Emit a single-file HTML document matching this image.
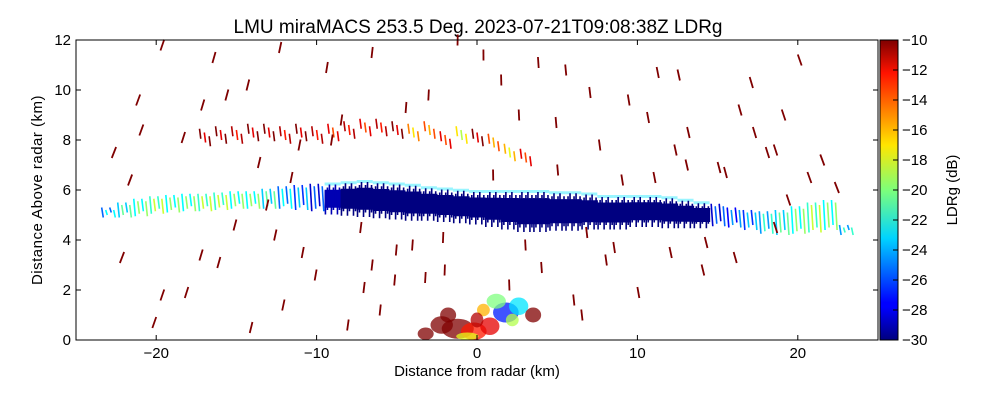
<!DOCTYPE html>
<html><head><meta charset="utf-8"><style>
body{margin:0;background:#fff;}
svg{display:block;font-family:"Liberation Sans",sans-serif;}
</style></head><body>
<svg id="chart" width="1000" height="400" viewBox="0 0 1000 400">
<text x="478" y="33" text-anchor="middle" font-size="19">LMU miraMACS 253.5 Deg. 2023-07-21T09:08:38Z  LDRg</text>
<g id="plot"></g>
<g id="axes"></g>
<text x="477" y="376" text-anchor="middle" font-size="15">Distance from radar (km)</text>
<text transform="translate(42,190) rotate(-90)" text-anchor="middle" font-size="15" letter-spacing="0.5">Distance Above radar  (km)</text>
<defs><linearGradient id="jet" x1="0" y1="1" x2="0" y2="0">
<stop offset="0" stop-color="#00007f"/><stop offset="0.11" stop-color="#0000ff"/><stop offset="0.125" stop-color="#0000ff"/>
<stop offset="0.34" stop-color="#00d4ff"/><stop offset="0.5" stop-color="#7dff7a"/><stop offset="0.65" stop-color="#ffe600"/>
<stop offset="0.89" stop-color="#ff1300"/><stop offset="1" stop-color="#7f0000"/></linearGradient></defs>
<rect x="880" y="40" width="18" height="300" fill="url(#jet)" stroke="#000" stroke-width="1"/>
<g id="cbar"></g>
<text transform="translate(957,190) rotate(-90)" text-anchor="middle" font-size="15">LDRg (dB)</text>
</svg>
<script>
const xTicks=[-20,-10,0,10,20];
const yTicks=[0,2,4,6,8,10,12];
const cTicks=[-10,-12,-14,-16,-18,-20,-22,-24,-26,-28,-30];
const bandX=[-23,-22,-21,-20,-19,-18,-17,-16,-15,-14,-13,-12,-11,-10,-9,-8,-7,-6,-5,-4,-3,-2,-1,0,1,2,3,4,5,6,7,8,9,10,11,12,13,14,15,16,17,18,19,20,21,22,23];
const bandY=[5.1,5.2,5.3,5.4,5.45,5.5,5.5,5.55,5.6,5.6,5.65,5.7,5.7,5.7,5.65,5.65,5.65,5.6,5.55,5.5,5.45,5.4,5.35,5.3,5.25,5.2,5.15,5.15,5.15,5.15,5.15,5.1,5.1,5.15,5.15,5.1,5.05,5.0,5.0,4.9,4.8,4.7,4.7,4.8,4.9,5.0,4.4];
const bandHalf=[0.2,0.3,0.35,0.35,0.35,0.35,0.35,0.35,0.35,0.35,0.4,0.45,0.5,0.55,0.45,0.5,0.55,0.55,0.55,0.55,0.5,0.5,0.5,0.5,0.55,0.6,0.65,0.65,0.6,0.6,0.55,0.5,0.5,0.45,0.45,0.45,0.4,0.35,0.45,0.4,0.4,0.45,0.5,0.55,0.6,0.6,0.2];
const bandLDR=[-24,-22,-21,-20,-21,-21,-20,-20,-21,-21,-22,-24,-25,-27,-29,-30,-30,-30,-30,-30,-30,-30,-30,-30,-30,-30,-30,-30,-30,-30,-30,-30,-30,-30,-30,-30,-30,-30,-27,-26,-25,-23,-22,-21,-20,-21,-23];
const layerX=[-17,-16,-15,-14,-13,-12,-11,-10,-9,-8,-7,-6,-5,-4,-3,-2,-1,0,1,2,3];
const layerY=[8.1,8.2,8.2,8.3,8.3,8.2,8.3,8.2,8.3,8.4,8.5,8.5,8.4,8.3,8.4,8.0,8.2,8.1,7.9,7.5,7.3];
const layerLDR=[-10,-10,-11,-10,-10,-11,-10,-11,-12,-11,-12,-11,-10,-15,-14,-12,-17,-10,-14,-16,-12];
const streakX=[-22.5,-21.5,-20.8,-19.5,-18.2,-17.1,-16.3,-15.5,-14.2,-13.5,-12.2,-11.5,-10.8,-9.3,-8.4,-7.2,-6.5,-5.1,-4.4,-3.2,-2.1,-1.2,0.4,1.5,2.6,3.8,4.9,5.5,6.8,7.6,8.5,9.4,10.6,11.2,12.3,13.1,14.2,15.4,16.3,17.2,18.5,19.3,20.6,21.4,22.3,-22,-20,-18,-16,-14,-12,-10,-8,-6,-4,-2,2,4,6,8,10,12,14,16,18,20,-17,-13,-9,-5,5,9,13,17,-21,-15,-11,-7,-3,3,7,11,15,19,-19.5,-12.5,-6.5,1,6.5,12.5,18.5];
const streakY=[7.5,6.4,8.4,11.8,8.1,3.4,11.3,9.8,10.2,7.1,11.7,6.5,3.5,10.9,8.8,4.5,3.0,2.4,9.3,2.5,4.1,12.0,11.4,10.4,9.0,11.1,8.7,10.8,4.3,7.8,3.7,9.6,8.9,10.7,7.6,8.3,3.9,6.7,9.2,8.3,4.5,5.6,6.5,7.2,6.1,3.3,0.7,1.9,3.1,0.5,1.4,2.6,0.6,1.2,3.8,2.8,2.2,2.9,1.6,3.2,1.9,3.5,2.8,3.3,7.5,11.2,9.4,5.4,8.0,3.6,6.8,6.4,7.0,10.3,9.6,4.6,7.8,2.1,9.8,3.8,9.9,6.5,6.9,9.0,1.8,4.2,11.5,6.6,1.0,10.6,7.6];
const blobX=[-1.2,-0.2,0.8,-2.2,1.8,2.6,1.2,3.5,-3.2,-0.6,0.4,-1.8,2.2,0.0];
const blobY=[0.45,0.35,0.55,0.6,1.1,1.35,1.55,1.0,0.25,0.15,1.2,1.0,0.8,0.8];
const blobRX=[1.0,0.8,0.6,0.7,0.8,0.6,0.6,0.5,0.5,0.7,0.4,0.5,0.4,0.4];
const blobRY=[0.4,0.35,0.35,0.35,0.4,0.35,0.3,0.3,0.25,0.15,0.25,0.3,0.25,0.3];
const blobLDR=[-10,-13,-12,-10,-27,-23,-20,-10,-10,-18,-16,-10,-19,-11];

const X0=76,X1=878,Y0=340,Y1=40;
const sx=v=>X0+(v+25)/50*(X1-X0);
const sy=v=>Y0-v/12*(Y0-Y1);
const NS='http://www.w3.org/2000/svg';
function jet(ldr){
  let t=Math.max(0,Math.min(1,(ldr+30)/20));
  const f=x=>Math.max(0,Math.min(1,1.5-Math.abs(4*t-x)));
  return `rgb(${Math.round(f(3)*255)},${Math.round(f(2)*255)},${Math.round(f(1)*255)})`;
}
const plot=document.getElementById('plot');
function mk(tag,attrs,parent){const e=document.createElementNS(NS,tag);for(const k in attrs)e.setAttribute(k,attrs[k]);parent.appendChild(e);return e;}
bandX.forEach((x,i)=>{
  const core=bandLDR[i]<=-28;
  if(core){
    const f=mk('rect',{x:sx(x-0.5),y:sy(bandY[i]+bandHalf[i]+0.2),width:sx(x+0.5)-sx(x-0.5),height:sy(0)-sy(0.12),fill:jet(-23),opacity:0.4},plot);
    
    
    const c=mk('rect',{x:sx(x-0.5),y:sy(bandY[i]+bandHalf[i]*0.8),width:sx(x+0.5)-sx(x-0.5)+0.6,height:sy(0)-sy(1.6*bandHalf[i]),fill:jet(bandLDR[i])},plot);
    
    
    for(let k=0;k<8;k++){
      const xx=x-0.5+k*0.125;
      const j=(k%3-1)*0.12;
      const r=mk('rect',{x:sx(xx),y:sy(bandY[i]+bandHalf[i]+j),width:1.6,height:sy(0)-sy(2*bandHalf[i]-j*0.5),fill:jet(bandLDR[i])},plot);
      
      
    }
  } else {
    for(let k=0;k<4;k++){
      const xx=x-0.4+k*0.25;
      const s=mk('line',{x1:sx(xx),y1:sy(bandY[i]+bandHalf[i]-(k%2)*0.1),x2:sx(xx+0.1),y2:sy(bandY[i]-bandHalf[i]+(k%3)*0.1),stroke:jet(bandLDR[i]+(k%2?1.5:-1.5)),'stroke-width':1.6},plot);
      
      
    }
  }
});
layerX.forEach((x,i)=>{
  for(let k=0;k<3;k++){
    const xx=x-0.3+k*0.3;
    const s=mk('line',{x1:sx(xx),y1:sy(layerY[i]+0.35-k*0.15),x2:sx(xx+0.08),y2:sy(layerY[i]-0.05-k*0.15),stroke:jet(layerLDR[i]-(k==1?2:0)),'stroke-width':1.6},plot);
    
    
  }
});
streakX.forEach((x,i)=>{
  const y=streakY[i];const dx=x*0.012;
  const s=mk('line',{x1:sx(x),y1:sy(y+0.22),x2:sx(x+dx),y2:sy(y-0.22),stroke:'#7f0000','stroke-width':1.8},plot);
  
  
});
blobX.forEach((x,i)=>{
  const e=mk('ellipse',{cx:sx(blobX[i]),cy:sy(blobY[i]),rx:sx(blobRX[i])-sx(0),ry:sy(0)-sy(blobRY[i]),fill:jet(blobLDR[i]),opacity:0.75},plot);
  
  
});
const ax=document.getElementById('axes');
const fr=mk('rect',{x:X0,y:Y1,width:X1-X0,height:Y0-Y1,fill:'none',stroke:'#000','stroke-width':1},ax);


xTicks.forEach(v=>{
  mk('line',{x1:sx(v),y1:Y0,x2:sx(v),y2:Y0-5,stroke:'#000'},ax);
  mk('line',{x1:sx(v),y1:Y1,x2:sx(v),y2:Y1+5,stroke:'#000'},ax);
  const t=mk('text',{x:sx(v),y:Y0+18,'text-anchor':'middle','font-size':15},ax);
  t.textContent=v<0?'\u2212'+(-v):v;
  
  
});
yTicks.forEach(v=>{
  mk('line',{x1:X0,y1:sy(v),x2:X0+5,y2:sy(v),stroke:'#000'},ax);
  mk('line',{x1:X1,y1:sy(v),x2:X1-5,y2:sy(v),stroke:'#000'},ax);
  const t=mk('text',{x:X0-5,y:sy(v)+5,'text-anchor':'end','font-size':15},ax);
  t.textContent=v;
  
  
});
const cb=document.getElementById('cbar');
cTicks.forEach(v=>{
  const y=340-(v+30)/20*300;
  mk('line',{x1:893,y1:y,x2:898,y2:y,stroke:'#000'},cb);
  const t=mk('text',{x:902,y:y+5,'font-size':15},cb);
  t.textContent='\u2212'+(-v);
  
  
});
</script>
</body></html>
